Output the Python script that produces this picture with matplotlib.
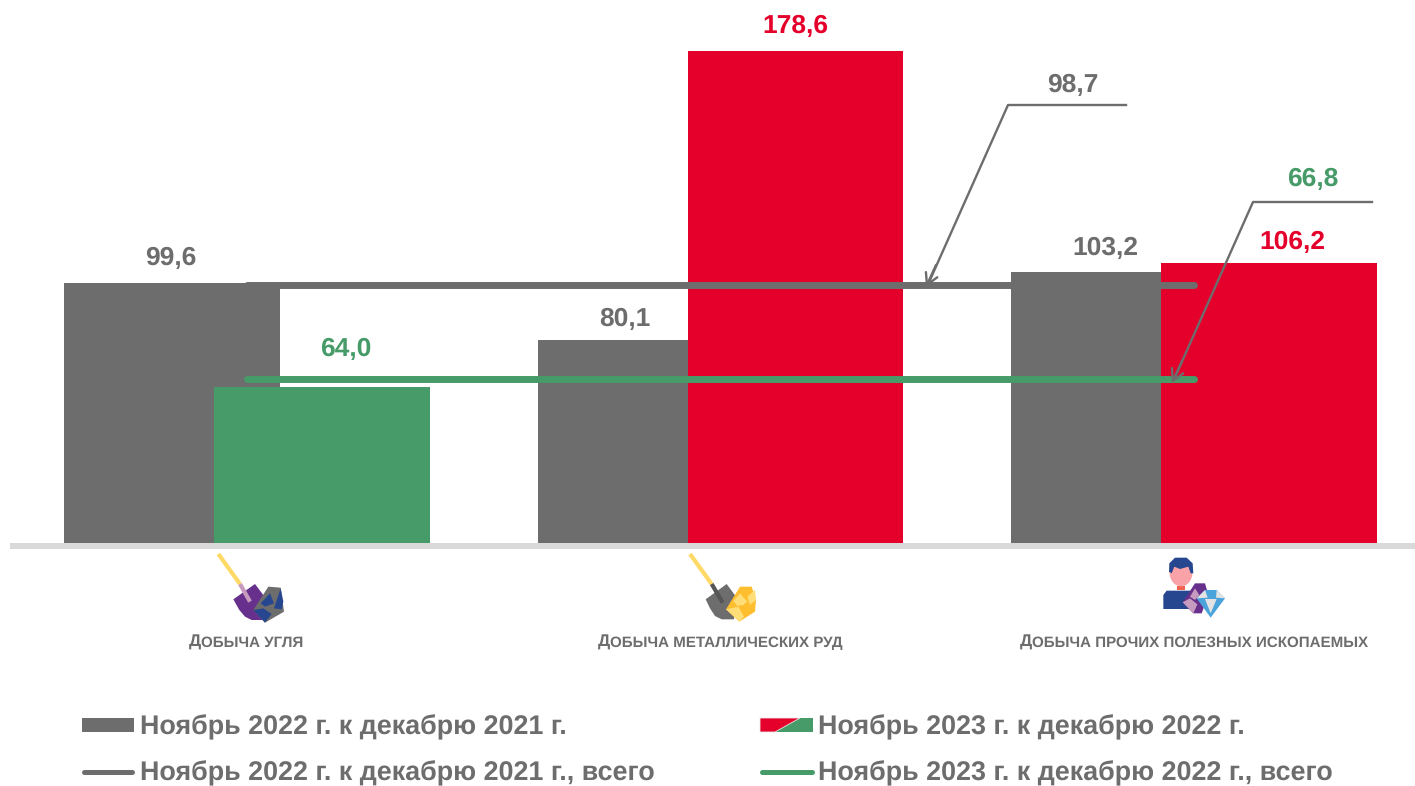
import matplotlib
matplotlib.use("Agg")
import matplotlib.pyplot as plt
from matplotlib.patches import Polygon, Ellipse, Rectangle

plt.rcParams['font.family'] = ['Liberation Sans', 'DejaVu Sans']
plt.rcParams['text.hinting'] = 'none'

# Data
categories = ["ДОБЫЧА УГЛЯ", "ДОБЫЧА МЕТАЛЛИЧЕСКИХ РУД", "ДОБЫЧА ПРОЧИХ ПОЛЕЗНЫХ ИСКОПАЕМЫХ"]
values_2022 = [99.6, 80.1, 103.2]
values_2023 = [64.0, 178.6, 106.2]
total_2022 = 98.7
total_2023 = 66.8
legend_labels = ["Ноябрь 2022 г. к декабрю 2021 г.", "Ноябрь 2023 г. к декабрю 2022 г.",
                 "Ноябрь 2022 г. к декабрю 2021 г., всего", "Ноябрь 2023 г. к декабрю 2022 г., всего"]

GREY = '#6D6D6D'
RED = '#E4002B'
GREEN = '#469B68'
W, H = 1415, 786
fmt = lambda v: f"{v:.1f}".replace('.', ',')

fig = plt.figure(figsize=(W / 100, H / 100), dpi=100, facecolor='white')

# Main axes, the bottom edge is the baseline at y=543 px
ax = fig.add_axes([10 / W, (H - 543) / H, 1405 / W, 543 / H])
ax.set_xlim((10 - 246.7) / 473.8, (1415 - 246.7) / 473.8)
ax.set_ylim(10.8, 10.8 + 543 / 2.93)
ax.axis('off')

x = range(len(categories))
bar_w = 216 / 474
shift = 75 / 474

# Bars, coloured ones go over the grey ones
x_grey = [i - shift for i in x]
x_col = [i + shift for i in x]
col_colors = [GREEN, RED, RED]
ax.bar(x_grey, values_2022, bar_w, color=GREY, zorder=2)
ax.bar(x_col, values_2023, bar_w, color=col_colors, zorder=3)

# Totals
ax.plot([0, 2], [total_2022, total_2022], color=GREY, lw=5, solid_capstyle='round', zorder=4)
ax.plot([0, 2], [total_2023, total_2023], color=GREEN, lw=5, solid_capstyle='round', zorder=4)

# Value labels, offsets in pixels from the top of the bar
off_grey = [(-1, 25), (-21, 21), (-14, 24)]
off_col = [(24, 38), (0, 25), (23, 21)]
for i in x:
    ax.annotate(fmt(values_2022[i]), (x_grey[i], values_2022[i]), xytext=off_grey[i],
                textcoords='offset pixels', ha='center', va='center', fontsize=19,
                fontweight='bold', color=GREY, zorder=5)
    ax.annotate(fmt(values_2023[i]), (x_col[i], values_2023[i]), xytext=off_col[i],
                textcoords='offset pixels', ha='center', va='center', fontsize=19,
                fontweight='bold', color=col_colors[i], zorder=5)

# Overlay in pixel coordinates for the decoration
ov = fig.add_axes([0, 0, 1, 1], zorder=5)
ov.set_xlim(0, W)
ov.set_ylim(H, 0)
ov.axis('off')
ov.patch.set_alpha(0)

# Baseline
ov.add_patch(Rectangle((10, 543), 1405, 6, color='#D9D9D9', lw=0))

# Callouts
ov.plot([1126, 1008, 930], [105, 105, 280], color=GREY, lw=1.7)
ov.text(1073, 85, fmt(total_2022), ha='center', va='center', fontsize=19, fontweight='bold', color=GREY)
ov.annotate('', xy=(926, 287), xytext=(936, 265),
            arrowprops=dict(arrowstyle='->,head_length=0.8,head_width=0.45', color=GREY, lw=1.7, shrinkA=0, shrinkB=0))
ov.plot([1372, 1253, 1176], [202, 202, 375], color=GREY, lw=1.7)
ov.text(1313, 179, fmt(total_2023), ha='center', va='center', fontsize=19, fontweight='bold', color=GREEN)
ov.annotate('', xy=(1172, 383), xytext=(1182, 361),
            arrowprops=dict(arrowstyle='->,head_length=0.8,head_width=0.45', color=GREY, lw=1.7, shrinkA=0, shrinkB=0))


def shape(pts, color, origin, **kw):
    pts = [(origin[0] + a / 3, origin[1] + b / 3) for a, b in pts]
    ov.add_patch(Polygon(pts, closed=True, facecolor=color, edgecolor='none', **kw))


def stick(pts, color, origin, lw):
    ov.plot([origin[0] + p[0] / 3 for p in pts], [origin[1] + p[1] / 3 for p in pts],
            color=color, lw=lw, solid_capstyle='butt')


# Coal icon
o1 = (170, 540)
stick([(145, 42), (210, 132)], '#FFD966', o1, 3)
shape([(190, 178), (255, 132), (285, 172), (282, 240), (245, 240), (225, 230), (208, 210)], '#66308C', o1)
stick([(210, 132), (240, 185)], '#C79BBE', o1, 3)
shape([(250, 210), (295, 140), (332, 143), (342, 215), (285, 248)], GREY, o1)
shape([(272, 190), (300, 160), (312, 190), (285, 200)], '#26478F', o1)
shape([(312, 205), (332, 145), (340, 185), (335, 208)], '#26478F', o1)
shape([(250, 210), (280, 205), (305, 222), (285, 248)], '#26478F', o1)

# Ore icon
o2 = (660, 540)
stick([(90, 42), (155, 132)], '#FFD966', o2, 3)
shape([(137, 178), (200, 132), (228, 170), (222, 238), (185, 238), (165, 228), (150, 205)], GREY, o2)
stick([(155, 132), (188, 188)], '#555555', o2, 3)
shape([(198, 208), (240, 140), (275, 140), (288, 180), (285, 215), (238, 245)], '#FFBE2E', o2)
shape([(198, 208), (235, 200), (252, 230), (238, 245)], '#FFDD77', o2)
shape([(220, 183), (240, 160), (262, 185), (250, 195), (232, 198)], '#FFDD77', o2)
shape([(262, 170), (285, 150), (288, 180), (270, 195)], '#FFDD77', o2)

# Miner and gem icon
o3 = (1140, 545)
shape([(70, 192), (70, 150), (80, 137), (165, 137), (175, 192)], '#26478F', o3)
shape([(112, 122), (135, 122), (135, 134), (112, 134)], '#F0614E', o3)
ov.add_patch(Ellipse((o3[0] + 123 / 3, o3[1] + 82 / 3), 23, 28, facecolor='#F9A3A8', edgecolor='none'))
shape([(87, 80), (88, 55), (105, 38), (140, 38), (158, 55), (160, 85), (152, 85), (145, 65), (120, 72), (103, 65), (95, 85)], '#26478F', o3)
shape([(128, 172), (165, 115), (195, 115), (205, 150), (185, 205), (160, 205)], '#66308C', o3)
shape([(128, 172), (150, 160), (172, 178), (160, 205)], '#C79BBE', o3)
shape([(150, 155), (165, 130), (178, 150), (165, 165)], '#C79BBE', o3)
shape([(170, 160), (195, 135), (230, 135), (255, 160), (212, 218)], '#4BA3DC', o3)
shape([(195, 162), (230, 162), (212, 205)], '#E3E3E3', o3)
shape([(170, 160), (195, 135), (203, 158)], '#E3E3E3', o3)
shape([(230, 135), (255, 160), (228, 158)], '#E3E3E3', o3)


# Category names in small caps: first letter is bigger
def small_caps(text, cx, cy):
    first = ov.text(0, cy, text[0], fontsize=12.3, fontweight='bold', color=GREY, va='baseline')
    rest = ov.text(0, cy, text[1:], fontsize=10.9, fontweight='bold', color=GREY, va='baseline')
    r = fig.canvas.get_renderer()
    w1 = first.get_window_extent(r).width
    w2 = rest.get_window_extent(r).width
    left = cx - (w1 + w2) / 2
    first.set_x(left)
    rest.set_x(left + w1)


label_x = [246, 720, 1194]
for name, cx in zip(categories, label_x):
    small_caps(name, cx, 647)

# Legend
ov.add_patch(Rectangle((82, 718), 52, 14, color=GREY, lw=0))
ov.plot([84, 132], [771.5, 771.5], color=GREY, lw=3.6, solid_capstyle='round')
ov.add_patch(Rectangle((760, 718), 53, 14, color=GREEN, lw=0))
ov.add_patch(Polygon([(760, 718), (800, 718), (775, 732), (760, 732)], closed=True, facecolor=RED, edgecolor='#E8E8E8', lw=0.6))
ov.plot([762, 812], [771.5, 771.5], color=GREEN, lw=3.6, solid_capstyle='round')
legend_pos = [(140, 727), (818, 727), (140, 773), (818, 773)]
for lab, (lx, ly) in zip(legend_labels, legend_pos):
    ov.text(lx, ly, lab, fontsize=19.4, fontweight='bold', color=GREY, ha='left', va='center')

fig.savefig('out.png', dpi=100)
